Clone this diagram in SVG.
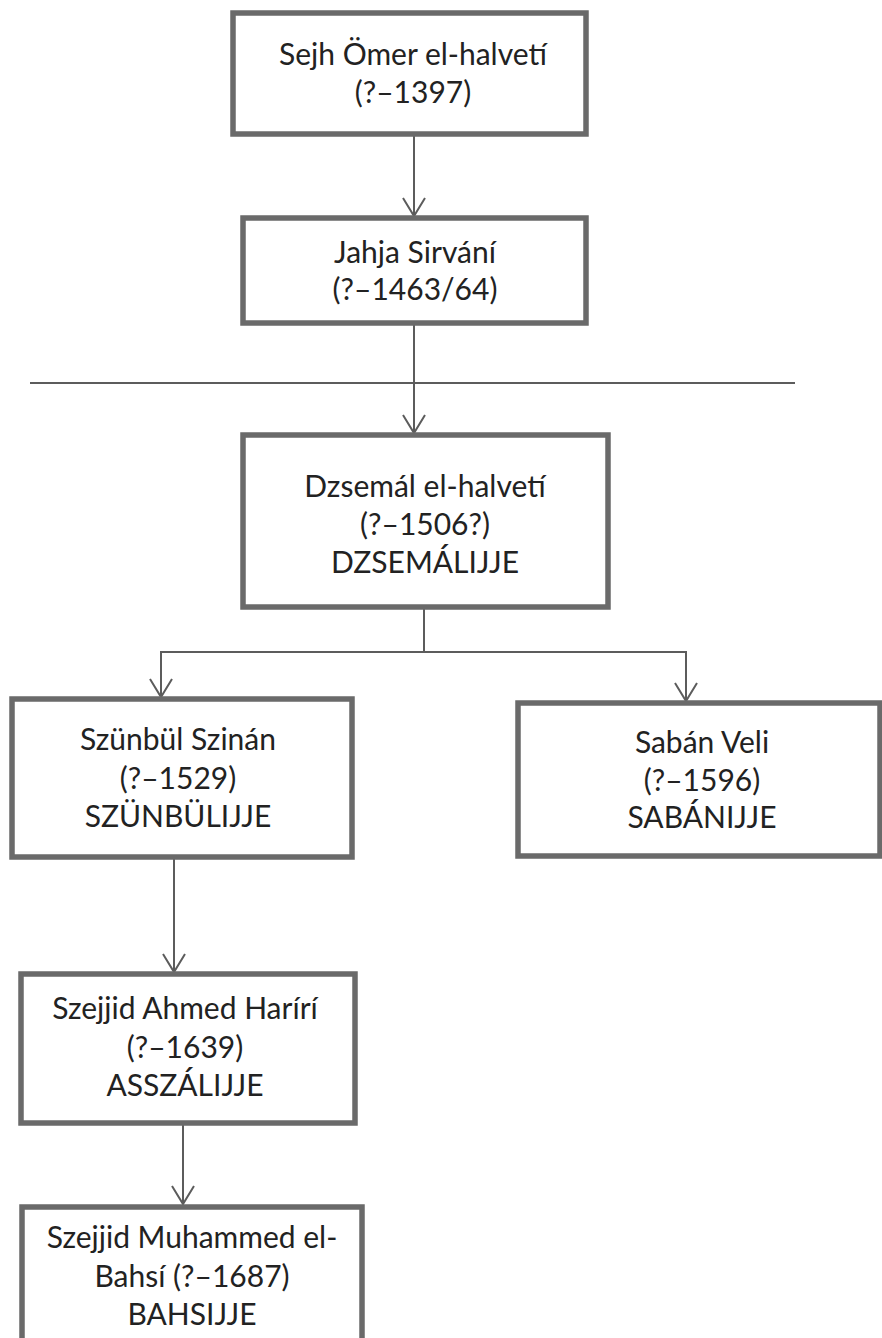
<svg xmlns="http://www.w3.org/2000/svg" width="882" height="1338" viewBox="0 0 882 1338">
<style>
.box{fill:#fff;stroke:#6a6a6a;stroke-width:5.5}
.t{font-family:Lato,"Open Sans",sans-serif;font-size:30px;fill:#222;text-anchor:middle}
.c{fill:none;stroke:#5c5c5c;stroke-width:2}
</style>
<defs>
<marker id="arr" markerUnits="userSpaceOnUse" markerWidth="30" markerHeight="30" refX="28" refY="15" orient="auto" viewBox="0 0 30 30">
<path d="M10,4 L28,15 L10,26" fill="none" stroke="#5c5c5c" stroke-width="2"/>
</marker>
</defs>
<rect width="882" height="1338" fill="#fff"/>
<g id="connectors">
<line class="c" x1="414" y1="134" x2="414" y2="216" marker-end="url(#arr)"/>
<line class="c" x1="414" y1="323" x2="414" y2="433" marker-end="url(#arr)"/>
<line class="c" x1="30" y1="383" x2="795" y2="383"/>
<polyline class="c" points="424,607 424,652 161,652 161,697" marker-end="url(#arr)"/>
<polyline class="c" points="424,652 686,652 686,701" marker-end="url(#arr)"/>
<line class="c" x1="174" y1="857" x2="174" y2="972" marker-end="url(#arr)"/>
<line class="c" x1="183" y1="1123" x2="183" y2="1204" marker-end="url(#arr)"/>
</g>
<g id="n1"><rect class="box" x="233" y="13" width="353" height="121"/>
<text class="t" x="413" y="65">Sejh Ömer el-halvetí</text><text class="t" x="413" y="103">(?–1397)</text></g>
<g id="n2"><rect class="box" x="243" y="218" width="343" height="105"/>
<text class="t" x="415" y="263">Jahja Sirvání</text><text class="t" x="415" y="300">(?–1463/64)</text></g>
<g id="n3"><rect class="box" x="243" y="435" width="365" height="172"/>
<text class="t" x="425" y="497">Dzsemál el-halvetí</text><text class="t" x="425" y="535">(?–1506?)</text><text class="t" x="425" y="573">DZSEMÁLIJJE</text></g>
<g id="n4"><rect class="box" x="12" y="699" width="340" height="158"/>
<text class="t" x="178" y="750">Szünbül Szinán</text><text class="t" x="178" y="789">(?–1529)</text><text class="t" x="178" y="827">SZÜNBÜLIJJE</text></g>
<g id="n5"><rect class="box" x="518" y="703" width="362" height="153"/>
<text class="t" x="702" y="753">Sabán Veli</text><text class="t" x="702" y="791">(?–1596)</text><text class="t" x="702" y="828">SABÁNIJJE</text></g>
<g id="n6"><rect class="box" x="21" y="974" width="334" height="149"/>
<text class="t" x="185" y="1019">Szejjid Ahmed Harírí</text><text class="t" x="185" y="1058">(?–1639)</text><text class="t" x="185" y="1096">ASSZÁLIJJE</text></g>
<g id="n7"><rect class="box" x="22" y="1207" width="340" height="150"/>
<text class="t" x="192" y="1248">Szejjid Muhammed el-</text><text class="t" x="192" y="1287">Bahsí (?–1687)</text><text class="t" x="192" y="1325">BAHSIJJE</text></g>
</svg>
